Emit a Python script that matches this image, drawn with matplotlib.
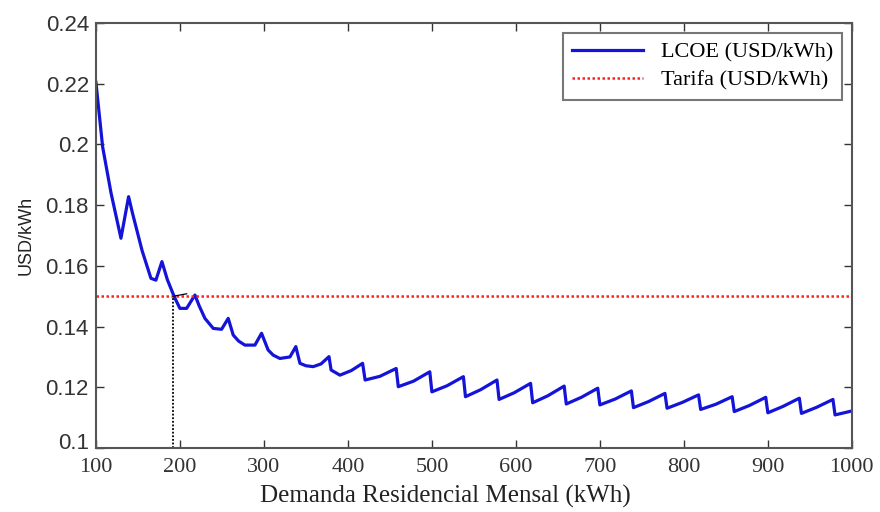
import matplotlib
matplotlib.use('Agg')
import matplotlib.pyplot as plt
import matplotlib.transforms as mtransforms

# LCOE curve
demanda = [100, 108, 118, 129.8, 138.9, 143.6, 155, 165.5, 171.4, 178.6, 185, 193.3, 200, 208, 217.9,
           223, 229.8, 239.7, 249.6, 257.5, 263.5, 270, 277.4, 289.3, 297.2,
           305, 311, 319, 331, 338, 342.9, 350, 358.7, 368, 377.5,
           380, 390.5, 404, 417.5, 420.5, 438, 457.5, 460, 478, 497.5, 500,
           518, 537.5, 540, 558, 577.5, 580, 598, 617.5, 620, 638, 657.5, 660,
           678, 697.5, 700, 718, 737.5, 740, 758, 777.5, 780, 798, 817.5, 820,
           838, 857.5, 860, 878, 897.5, 900, 918, 937.5, 940, 958, 977.5, 980, 1000]
lcoe = [0.2205, 0.1992, 0.184, 0.1691, 0.1828, 0.1773, 0.1650, 0.1559, 0.1553, 0.1614, 0.1555, 0.1498, 0.1460, 0.1460, 0.1504,
        0.1468, 0.1427, 0.1394, 0.1391, 0.1427, 0.1372, 0.1352, 0.1339, 0.1339, 0.1378,
        0.1323, 0.1306, 0.1295, 0.1300, 0.1334, 0.1279, 0.1271, 0.1268, 0.1277, 0.1301,
        0.1257, 0.1240, 0.1255, 0.1279, 0.1224, 0.1236, 0.1262, 0.1202, 0.1220, 0.1251, 0.1185,
        0.1205, 0.1235, 0.1169, 0.1192, 0.1224, 0.1160, 0.1182, 0.1213, 0.1149, 0.1172, 0.1204, 0.1145,
        0.1167, 0.1197, 0.1142, 0.1161, 0.1188, 0.1133, 0.1153, 0.1180, 0.1131, 0.1150, 0.1175, 0.1127,
        0.1144, 0.1169, 0.1120, 0.1140, 0.1167, 0.1116, 0.1137, 0.1164, 0.1114, 0.1134, 0.1160, 0.1109, 0.1122]
tarifa = 0.15
cruce = 192
yticks = [0.1, 0.12, 0.14, 0.16, 0.18, 0.2, 0.22, 0.24]
ylabels = ['0.1', '0.12', '0.14', '0.16', '0.18', '0.2', '0.22', '0.24']

fig = plt.figure(figsize=(8.8, 5.12), dpi=100)
ax = fig.add_axes([0.109, 0.125, 0.859, 0.83])

ax.plot(demanda, lcoe, color='#1414d8', lw=2.3, label='LCOE (USD/kWh)')
ax.axhline(tarifa, color='#ff2020', lw=1.8, ls=(0, (1, 1)), label='Tarifa (USD/kWh)')
ax.plot([cruce, cruce], [0.1, tarifa], color='black', lw=1.3, ls=(0, (1, 1)))
ax.plot([cruce, cruce + 16], [tarifa, tarifa + 0.0008], color='black', lw=0.9)

ax.set_xlim(100, 1000)
ax.set_ylim(0.1, 0.24)
ax.set_xticks(range(100, 1001, 100))
ax.set_yticks(yticks)
ax.set_yticklabels(ylabels, family='Liberation Sans', fontsize=16, color='#222222')
for t in ax.get_xticklabels():
    t.set_family('Liberation Serif')
    t.set_fontsize(16)
    t.set_color('#222222')
ax.tick_params(direction='in', top=True, right=True, length=6, width=1, colors='#333333')
ax.tick_params(axis='x', pad=7)
ax.tick_params(axis='y', pad=5)
# lift the bottom y label a little, as in the original
ax.get_yticklabels()[0].set_transform(ax.get_yticklabels()[0].get_transform() +
                                      mtransforms.ScaledTranslation(0, 5 / 72, fig.dpi_scale_trans))
for s in ax.spines.values():
    s.set_color('#555555')
    s.set_linewidth(1.5)

ax.set_xlabel('Demanda Residencial Mensal (kWh)', family='Liberation Serif', fontsize=18,
              color='#222222')
ax.xaxis.set_label_coords(0.462, -0.088)
ax.set_ylabel('USD/kWh', family='Liberation Sans', fontsize=13, labelpad=8, color='#222222')

leg = ax.legend(loc='upper right', prop={'family': 'Liberation Serif', 'size': 16},
                fancybox=False, edgecolor='#555555', handlelength=3.2, borderaxespad=0.45,
                labelspacing=0.35)
leg.get_frame().set_linewidth(1.5)

fig.savefig('out.png', dpi=100)
